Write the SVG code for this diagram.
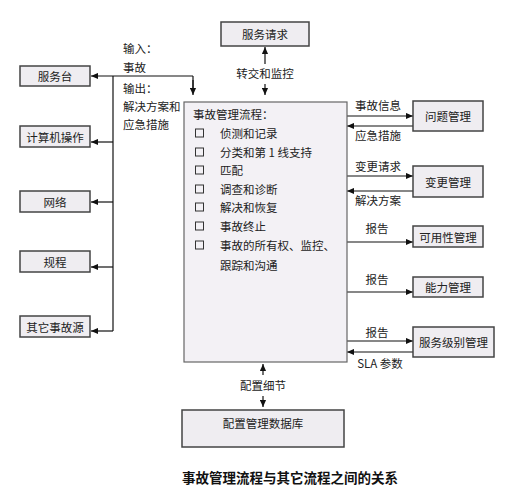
<svg xmlns="http://www.w3.org/2000/svg" width="517" height="492" viewBox="0 0 517 492">
<defs>
<marker id="ah" viewBox="0 0 8 8" refX="8" refY="4" markerWidth="7" markerHeight="7" orient="auto" markerUnits="userSpaceOnUse"><path d="M0,0.5 L8,4 L0,7.5 z" fill="#111"/></marker>
<style>
text{font-family:"Noto Sans CJK SC","Liberation Sans",sans-serif;font-size:11.5px;fill:#222;}
.c{text-anchor:middle;dominant-baseline:central;}
.l{dominant-baseline:central;}
.box{fill:#efedf1;stroke:#444;stroke-width:1.5;}
.main{fill:#f3f1f5;stroke:#666;stroke-width:1.2;}
.cb{fill:none;stroke:#333;stroke-width:1;}
.ln{fill:none;stroke:#111;stroke-width:1.2;}
.ar{fill:none;stroke:#111;stroke-width:1.2;marker-end:url(#ah);}
.cap{font-size:13.5px;font-weight:bold;fill:#111;}
</style>
</defs>
<rect width="517" height="492" fill="#fff"/>

<g id="connectors">
<path class="ar" d="M193,76 H91"/>
<path class="ln" d="M193,76 V88"/>
<path class="ar" d="M193,80 V95"/>
<path class="ln" d="M113,76 V331"/>
<path class="ar" d="M113,142 H91"/>
<path class="ar" d="M113,202 H91"/>
<path class="ar" d="M113,267 H91"/>
<path class="ar" d="M113,331 H91"/>
<path class="ar" d="M265,64 V47"/>
<path class="ar" d="M265,84 V95"/>
<path class="ar" d="M347,116 H413"/>
<path class="ar" d="M413,126 H347"/>
<path class="ar" d="M347,176 H413"/>
<path class="ar" d="M413,191 H347"/>
<path class="ar" d="M347,242 H413"/>
<path class="ar" d="M347,292 H413"/>
<path class="ar" d="M347,341 H413"/>
<path class="ar" d="M413,352 H347"/>
<path class="ar" d="M263,375 V364"/>
<path class="ar" d="M263,396 V407"/>
<text class="l" x="123" y="48">输入：</text>
<text class="l" x="123" y="67">事故</text>
<text class="l" x="123" y="88">输出：</text>
<text class="l" x="123" y="106">解决方案和</text>
<text class="l" x="123" y="124">应急措施</text>
<text class="c" x="265" y="73">转交和监控</text>
<text class="c" x="378" y="105">事故信息</text>
<text class="c" x="378" y="135">应急措施</text>
<text class="c" x="378" y="166">变更请求</text>
<text class="c" x="378" y="200">解决方案</text>
<text class="c" x="377" y="228">报告</text>
<text class="c" x="377" y="279">报告</text>
<text class="c" x="377" y="332">报告</text>
<text class="c" x="380" y="363">SLA 参数</text>
<text class="c" x="263" y="385">配置细节</text>
</g>

<g id="n-service-request"><rect class="box" x="221" y="22" width="88" height="24"/><text class="c" x="265" y="34">服务请求</text></g>
<g id="n-service-desk"><rect class="box" x="20" y="66" width="70" height="20"/><text class="c" x="55" y="76">服务台</text></g>
<g id="n-computer-ops"><rect class="box" x="20" y="126" width="70" height="21"/><text class="c" x="55" y="136.5">计算机操作</text></g>
<g id="n-network"><rect class="box" x="20" y="191" width="70" height="21"/><text class="c" x="55" y="201.5">网络</text></g>
<g id="n-procedure"><rect class="box" x="20" y="251" width="70" height="21"/><text class="c" x="55" y="261.5">规程</text></g>
<g id="n-other-source"><rect class="box" x="20" y="316" width="70" height="21"/><text class="c" x="55" y="326.5">其它事故源</text></g>

<g id="n-incident-process">
<rect class="main" x="184" y="102" width="163" height="260"/>
<text class="l" x="193" y="114">事故管理流程：</text>
<rect class="cb" x="195.5" y="129" width="8" height="8"/><text class="l" x="220" y="133">侦测和记录</text>
<rect class="cb" x="195.5" y="148" width="8" height="8"/><text class="l" x="220" y="152">分类和第 1 线支持</text>
<rect class="cb" x="195.5" y="166" width="8" height="8"/><text class="l" x="220" y="170">匹配</text>
<rect class="cb" x="195.5" y="185" width="8" height="8"/><text class="l" x="220" y="189">调查和诊断</text>
<rect class="cb" x="195.5" y="203" width="8" height="8"/><text class="l" x="220" y="207">解决和恢复</text>
<rect class="cb" x="195.5" y="222" width="8" height="8"/><text class="l" x="220" y="226">事故终止</text>
<rect class="cb" x="195.5" y="241" width="8" height="8"/><text class="l" x="220" y="245">事故的所有权、监控、</text>
<text class="l" x="220" y="265">跟踪和沟通</text>
</g>

<g id="n-problem"><rect class="box" x="413" y="101" width="70" height="30"/><text class="c" x="448" y="116">问题管理</text></g>
<g id="n-change"><rect class="box" x="413" y="166" width="70" height="31"/><text class="c" x="448" y="181.5">变更管理</text></g>
<g id="n-availability"><rect class="box" x="413" y="226" width="70" height="21"/><text class="c" x="448" y="236.5">可用性管理</text></g>
<g id="n-capacity"><rect class="box" x="413" y="277" width="70" height="20"/><text class="c" x="448" y="287">能力管理</text></g>
<g id="n-slm"><rect class="box" x="413" y="327" width="81" height="30"/><text class="c" x="453.5" y="342">服务级别管理</text></g>
<g id="n-cmdb"><rect class="box" x="182" y="410" width="162" height="37"/><text class="c" x="263" y="423">配置管理数据库</text></g>

<text class="cap c" x="290" y="477">事故管理流程与其它流程之间的关系</text>
</svg>
